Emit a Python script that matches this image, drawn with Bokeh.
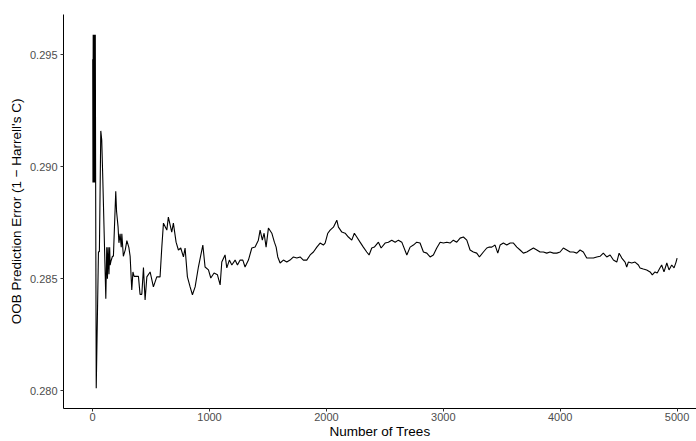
from bokeh.plotting import figure
from bokeh.models import Range1d, FixedTicker, NumeralTickFormatter, ColumnDataSource
from bokeh.embed import file_html
from bokeh.resources import INLINE

trees = [1, 3, 5, 8, 11, 14, 17, 20, 23, 26, 31, 50, 58, 70, 78, 86, 113, 121, 127, 133,
         140, 146, 150, 158, 170, 178, 198, 205, 218, 225, 235, 245, 250, 263, 280, 293,
         310, 321, 335, 345, 355, 372, 392, 406, 421, 435, 449, 464, 492, 520, 549, 577,
         592, 606, 635, 648, 677, 691, 714, 734, 754, 777, 791, 811, 834, 854, 877, 905,
         943, 962, 991, 1011, 1039, 1068, 1091, 1105, 1133, 1148, 1170, 1191, 1219, 1239,
         1262, 1285, 1304, 1333, 1362, 1390, 1418, 1433, 1452, 1467, 1484, 1504, 1533,
         1555, 1570, 1584, 1604, 1632, 1661, 1689, 1718, 1747, 1775, 1803, 1832, 1861,
         1889, 1918, 1946, 1974, 1989, 2012, 2032, 2060, 2089, 2103, 2132, 2160, 2188,
         2217, 2239, 2260, 2288, 2316, 2345, 2365, 2388, 2410, 2445, 2468, 2502, 2530,
         2559, 2588, 2616, 2645, 2688, 2716, 2744, 2773, 2801, 2830, 2859, 2887, 2915,
         2944, 2973, 3001, 3030, 3058, 3086, 3115, 3144, 3172, 3201, 3229, 3257, 3286,
         3309, 3343, 3372, 3394, 3415, 3443, 3466, 3486, 3514, 3543, 3572, 3600, 3629,
         3657, 3685, 3714, 3742, 3771, 3800, 3828, 3856, 3885, 3913, 3942, 3971, 3999,
         4027, 4056, 4085, 4113, 4142, 4170, 4198, 4227, 4256, 4284, 4313, 4341, 4369,
         4398, 4427, 4455, 4484, 4504, 4527, 4555, 4569, 4583, 4612, 4640, 4669, 4683,
         4711, 4740, 4769, 4788, 4811, 4830, 4853, 4868, 4888, 4912, 4931, 4954, 4974,
         4991, 5000]

oob_error = [0.29480, 0.28930, 0.29590, 0.28930, 0.29590, 0.28930, 0.29590, 0.28930, 0.29590, 0.28930,
             0.28010, 0.28620, 0.28620, 0.29160, 0.29120, 0.28970, 0.28410, 0.28640, 0.28500, 0.28640,
             0.28520, 0.28640, 0.28560, 0.28580, 0.28600, 0.28600, 0.28890, 0.28800, 0.28730, 0.28660,
             0.28700, 0.28640, 0.28700, 0.28600, 0.28630, 0.28670,
             0.28640, 0.28600, 0.28450, 0.28530, 0.28510, 0.28510, 0.28510, 0.28430, 0.28430, 0.28550,
             0.28405, 0.28508, 0.28530, 0.28463, 0.28508, 0.28508,
             0.28641, 0.28748, 0.28717, 0.28775, 0.28708, 0.28748, 0.28663, 0.28628, 0.28637, 0.28597,
             0.28637, 0.28508, 0.28463, 0.28428, 0.28463, 0.28552,
             0.28650, 0.28552, 0.28539, 0.28503, 0.28525, 0.28517, 0.28472, 0.28574, 0.28606, 0.28548,
             0.28583, 0.28561, 0.28583, 0.28561,
             0.28583, 0.28583, 0.28552, 0.28583, 0.28637, 0.28641, 0.28672, 0.28717, 0.28672, 0.28703,
             0.28641, 0.28726, 0.28703,
             0.28663, 0.28641, 0.28597, 0.28570, 0.28583, 0.28574, 0.28583, 0.28597, 0.28592, 0.28597,
             0.28583, 0.28583, 0.28606,
             0.28619, 0.28641, 0.28659, 0.28650, 0.28659, 0.28703, 0.28717, 0.28730, 0.28761, 0.28730,
             0.28708, 0.28703, 0.28686,
             0.28672, 0.28703, 0.28686, 0.28663, 0.28641, 0.28619, 0.28606, 0.28637, 0.28641, 0.28663,
             0.28637, 0.28659, 0.28663,
             0.28672, 0.28663, 0.28672, 0.28663, 0.28606, 0.28641, 0.28650, 0.28663, 0.28659, 0.28619,
             0.28614, 0.28597, 0.28606,
             0.28637, 0.28663, 0.28659, 0.28663, 0.28659, 0.28672, 0.28663, 0.28681, 0.28686, 0.28672,
             0.28628, 0.28619, 0.28614,
             0.28597, 0.28619, 0.28637, 0.28641, 0.28641, 0.28650, 0.28614, 0.28650, 0.28659, 0.28650,
             0.28659, 0.28659, 0.28641,
             0.28628, 0.28614, 0.28619, 0.28628, 0.28637, 0.28628, 0.28619, 0.28619, 0.28614, 0.28619,
             0.28614, 0.28614, 0.28619,
             0.28637, 0.28628, 0.28619, 0.28619, 0.28614, 0.28628, 0.28619, 0.28592, 0.28592, 0.28592,
             0.28597, 0.28600, 0.28614,
             0.28597, 0.28606, 0.28583, 0.28574, 0.28614, 0.28592, 0.28574, 0.28552, 0.28574, 0.28570,
             0.28574, 0.28561, 0.28548,
             0.28543, 0.28539, 0.28530, 0.28517, 0.28530, 0.28525, 0.28548, 0.28561, 0.28530, 0.28570,
             0.28539, 0.28561, 0.28548,
             0.28574, 0.28592]

assert len(trees) == len(oob_error), (len(trees), len(oob_error))

x_ticks = [0, 1000, 2000, 3000, 4000, 5000]
y_ticks = [0.280, 0.285, 0.290, 0.295]

x_title = "Number of Trees"
y_title = "OOB Prediction Error (1 \u2212 Harrell's C)"

src = ColumnDataSource(data=dict(trees=trees, err=oob_error))

p = figure(width=696, height=441, output_backend="svg", toolbar_location=None,
           x_range=Range1d(-249, 5166), y_range=Range1d(0.2792, 0.2968),
           min_border_left=63, min_border_top=14, min_border_right=0, min_border_bottom=0)
p.grid.visible = False
p.outline_line_color = None
p.background_fill_color = "white"
p.border_fill_color = "white"

p.line(x="trees", y="err", source=src, line_color="black", line_width=1.1)

p.xaxis.ticker = FixedTicker(ticks=x_ticks)
p.yaxis.ticker = FixedTicker(ticks=y_ticks)
p.xaxis.formatter = NumeralTickFormatter(format="0")
p.yaxis.formatter = NumeralTickFormatter(format="0.000")
p.xaxis.axis_label = x_title
p.yaxis.axis_label = y_title

for ax in (p.xaxis, p.yaxis):
    ax.axis_line_color = "black"
    ax.axis_line_width = 1
    ax.major_tick_line_color = "#333333"
    ax.major_tick_line_width = 1
    ax.major_tick_out = 3
    ax.major_tick_in = 0
    ax.minor_tick_out = 0
    ax.minor_tick_in = 0
    ax.major_label_text_font = "Liberation Sans"
    ax.major_label_text_font_size = "11px"
    ax.major_label_text_color = "#4D4D4D"
    ax.major_label_standoff = 3
    ax.axis_label_text_font = "Liberation Sans"
    ax.axis_label_text_font_size = "13.5px"
    ax.axis_label_text_font_style = "normal"
    ax.axis_label_text_color = "black"
    ax.axis_label_standoff = 3

p.xaxis.major_label_standoff = 1
p.xaxis.axis_label_standoff = 0

open("out.html", "w").write(file_html(p, INLINE))
